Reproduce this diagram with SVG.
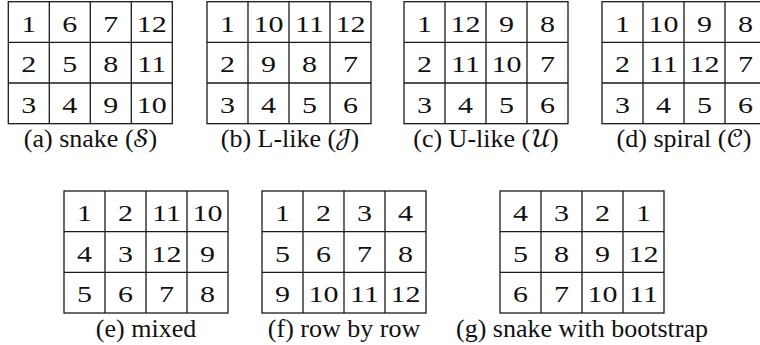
<svg xmlns="http://www.w3.org/2000/svg" width="760" height="345" viewBox="0 0 760 345">
<style>
.n{font-size:24px;fill:#111;text-anchor:middle}
.c{font-size:26px;fill:#111;text-anchor:middle}
.m{font-family:"STIX Two Math","Cambria Math",serif}
</style>
<rect width="760" height="345" fill="#fff"/>
<defs>
<g id="grid" fill="#fff" stroke="#1a1a1a" stroke-width="1.3">
<rect x="0" y="0" width="164" height="122"/>
<line x1="41" y1="0" x2="41" y2="122"/>
<line x1="82" y1="0" x2="82" y2="122"/>
<line x1="123" y1="0" x2="123" y2="122"/>
<line x1="0" y1="40.7" x2="164" y2="40.7"/>
<line x1="0" y1="81.3" x2="164" y2="81.3"/>
</g>
</defs>
<g font-family="'Liberation Serif', 'Times New Roman', 'DejaVu Serif', serif">
<g id="a" transform="translate(8.3,1.7)">
<use href="#grid"/>
<g class="n" transform="scale(1.25,1)"><text x="16.4" y="30">1</text><text x="49.2" y="30">6</text><text x="82" y="30">7</text><text x="114.8" y="30">12</text>
<text x="16.4" y="70.7">2</text><text x="49.2" y="70.7">5</text><text x="82" y="70.7">8</text><text x="114.8" y="70.7">11</text>
<text x="16.4" y="111.4">3</text><text x="49.2" y="111.4">4</text><text x="82" y="111.4">9</text><text x="114.8" y="111.4">10</text></g>
</g>
<text class="c" x="90.5" y="147">(a) snake (<tspan class="m">𝒮</tspan>)</text>
<g id="b" transform="translate(207,1.7)">
<use href="#grid"/>
<g class="n" transform="scale(1.25,1)"><text x="16.4" y="30">1</text><text x="49.2" y="30">10</text><text x="82" y="30">11</text><text x="114.8" y="30">12</text>
<text x="16.4" y="70.7">2</text><text x="49.2" y="70.7">9</text><text x="82" y="70.7">8</text><text x="114.8" y="70.7">7</text>
<text x="16.4" y="111.4">3</text><text x="49.2" y="111.4">4</text><text x="82" y="111.4">5</text><text x="114.8" y="111.4">6</text></g>
</g>
<text class="c" x="290" y="147">(b) L-like (<tspan class="m">𝒥</tspan>)</text>
<g id="c" transform="translate(404,1.7)">
<use href="#grid"/>
<g class="n" transform="scale(1.25,1)"><text x="16.4" y="30">1</text><text x="49.2" y="30">12</text><text x="82" y="30">9</text><text x="114.8" y="30">8</text>
<text x="16.4" y="70.7">2</text><text x="49.2" y="70.7">11</text><text x="82" y="70.7">10</text><text x="114.8" y="70.7">7</text>
<text x="16.4" y="111.4">3</text><text x="49.2" y="111.4">4</text><text x="82" y="111.4">5</text><text x="114.8" y="111.4">6</text></g>
</g>
<text class="c" x="486" y="147">(c) U-like (<tspan class="m">𝒰</tspan>)</text>
<g id="d" transform="translate(602,1.7)">
<use href="#grid"/>
<g class="n" transform="scale(1.25,1)"><text x="16.4" y="30">1</text><text x="49.2" y="30">10</text><text x="82" y="30">9</text><text x="114.8" y="30">8</text>
<text x="16.4" y="70.7">2</text><text x="49.2" y="70.7">11</text><text x="82" y="70.7">12</text><text x="114.8" y="70.7">7</text>
<text x="16.4" y="111.4">3</text><text x="49.2" y="111.4">4</text><text x="82" y="111.4">5</text><text x="114.8" y="111.4">6</text></g>
</g>
<text class="c" x="684" y="147">(d) spiral (<tspan class="m">𝒞</tspan>)</text>
<g id="e" transform="translate(64,191)">
<use href="#grid"/>
<g class="n" transform="scale(1.25,1)"><text x="16.4" y="30">1</text><text x="49.2" y="30">2</text><text x="82" y="30">11</text><text x="114.8" y="30">10</text>
<text x="16.4" y="70.7">4</text><text x="49.2" y="70.7">3</text><text x="82" y="70.7">12</text><text x="114.8" y="70.7">9</text>
<text x="16.4" y="111.4">5</text><text x="49.2" y="111.4">6</text><text x="82" y="111.4">7</text><text x="114.8" y="111.4">8</text></g>
</g>
<text class="c" x="146" y="336.5">(e) mixed</text>
<g id="f" transform="translate(262,191)">
<use href="#grid"/>
<g class="n" transform="scale(1.25,1)"><text x="16.4" y="30">1</text><text x="49.2" y="30">2</text><text x="82" y="30">3</text><text x="114.8" y="30">4</text>
<text x="16.4" y="70.7">5</text><text x="49.2" y="70.7">6</text><text x="82" y="70.7">7</text><text x="114.8" y="70.7">8</text>
<text x="16.4" y="111.4">9</text><text x="49.2" y="111.4">10</text><text x="82" y="111.4">11</text><text x="114.8" y="111.4">12</text></g>
</g>
<text class="c" x="344" y="336.5">(f) row by row</text>
<g id="g" transform="translate(500,191)">
<use href="#grid"/>
<g class="n" transform="scale(1.25,1)"><text x="16.4" y="30">4</text><text x="49.2" y="30">3</text><text x="82" y="30">2</text><text x="114.8" y="30">1</text>
<text x="16.4" y="70.7">5</text><text x="49.2" y="70.7">8</text><text x="82" y="70.7">9</text><text x="114.8" y="70.7">12</text>
<text x="16.4" y="111.4">6</text><text x="49.2" y="111.4">7</text><text x="82" y="111.4">10</text><text x="114.8" y="111.4">11</text></g>
</g>
<text class="c" x="582" y="336.5">(g) snake with bootstrap</text>
</g>
</svg>
